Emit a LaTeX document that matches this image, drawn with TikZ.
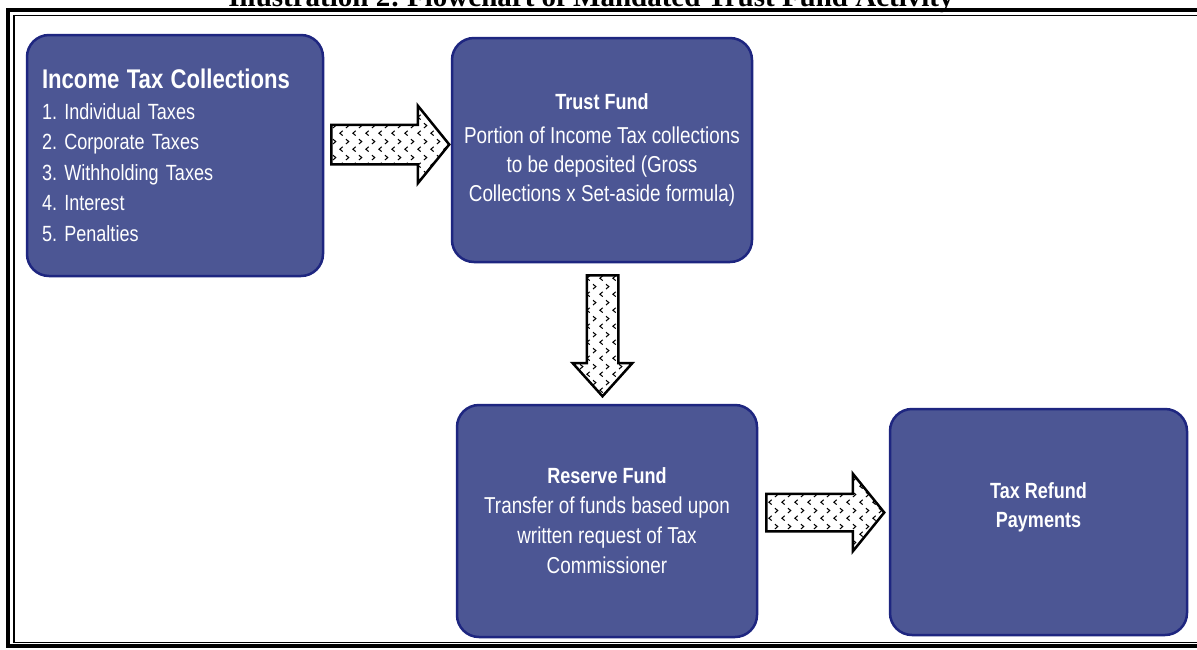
\documentclass[tikz,border=0pt]{standalone}
\usepackage{fontspec}
\setmainfont[FakeStretch=0.82]{Liberation Sans}
\newfontfamily\titlefont{Liberation Serif}
\usepackage{tikz}
\usetikzlibrary{shapes.arrows,patterns}
\definecolor{boxfill}{RGB}{76,86,148}
\definecolor{boxline}{RGB}{30,38,128}
\frenchspacing

\pgfdeclarepatternformonly{chevrons}{\pgfqpoint{0pt}{0pt}}{\pgfqpoint{13pt}{16pt}}{\pgfqpoint{13pt}{16pt}}{%
  \pgfsetlinewidth{1.1pt}
  \pgfpathmoveto{\pgfqpoint{5pt}{1.5pt}}\pgfpathlineto{\pgfqpoint{2pt}{4pt}}\pgfpathlineto{\pgfqpoint{5pt}{6.5pt}}
  \pgfpathmoveto{\pgfqpoint{8.5pt}{9.5pt}}\pgfpathlineto{\pgfqpoint{11.5pt}{12pt}}\pgfpathlineto{\pgfqpoint{8.5pt}{14.5pt}}
  \pgfusepath{stroke}}

\begin{document}
\begin{tikzpicture}[x=1pt,y=-1pt]
  \useasboundingbox (0,0) rectangle (1197,649);
  \fill[white] (0,0) rectangle (1197,649);

  \tikzset{box/.style={draw=boxline, fill=boxfill, line width=2.5pt, rounded corners=22pt,
      text=white, inner sep=0pt, align=center},
    fatarrow/.style={single arrow, draw=black, line width=2.5pt, fill=white, anchor=tail,
      postaction={pattern=chevrons}, single arrow head indent=0pt, inner sep=0pt}}

  % title and frame
  \node[font=\titlefont\bfseries\fontsize{29}{32}\selectfont, anchor=base] (title) at (591,6)
    {Illustration 2: Flowchart of Mandated Trust Fund Activity};
  \draw[line width=4pt] (8,10) rectangle (1215,646);
  \draw[line width=1.2pt] (14,15.5) rectangle (1215,642.5);

  % boxes
  \node[box, minimum width=296pt, minimum height=241pt, text width=266pt, align=left,
    font=\fontsize{22}{30.5}\selectfont] (itc) at (175,155.5)
    {{\fontsize{27}{30.5}\selectfont\bfseries Income Tax Collections}\\
     1. Individual Taxes\\2. Corporate Taxes\\3. Withholding Taxes\\4. Interest\\5. Penalties};

  \node[box, minimum width=300pt, minimum height=224pt, font=\fontsize{23}{29}\selectfont] (trust) at (602,150)
    {{\fontsize{22}{29}\selectfont\bfseries Trust Fund}\\[5pt]
     Portion of Income Tax collections\\to be deposited (Gross\\Collections x Set-aside formula)};

  \node[box, minimum width=300pt, minimum height=232pt, font=\fontsize{23}{30}\selectfont] (reserve) at (607,521)
    {{\fontsize{22}{30}\selectfont\bfseries Reserve Fund}\\
     Transfer of funds based upon\\written request of Tax\\Commissioner};

  \node[box, minimum width=297pt, minimum height=226pt, font=\fontsize{22}{29}\selectfont\bfseries] (refund) at (1038.5,522)
    {Tax Refund\\Payments\\[4pt]\mbox{}};

  % block arrows
  \node[fatarrow, minimum height=118pt, minimum width=75pt, inner ysep=18.5pt,
    single arrow head extend=19pt, single arrow tip angle=102] (a1) at (330,144.5) {};
  \node[fatarrow, rotate=-90, minimum height=121pt, minimum width=57pt, inner ysep=14.5pt,
    single arrow head extend=14pt, single arrow tip angle=84] (a2) at (602.5,274) {};
  \node[fatarrow, minimum height=118pt, minimum width=75pt, inner ysep=17.5pt,
    single arrow head extend=20pt, single arrow tip angle=102] (a3) at (765,512.5) {};
\end{tikzpicture}
\end{document}
